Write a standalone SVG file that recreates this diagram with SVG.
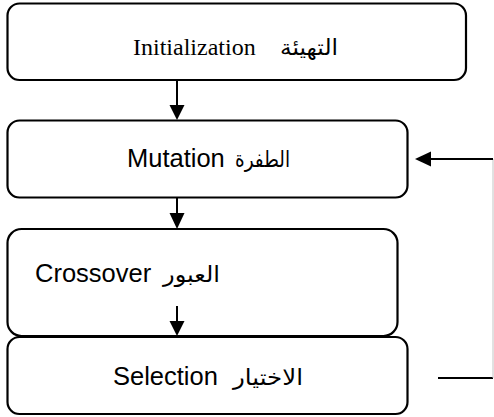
<svg xmlns="http://www.w3.org/2000/svg" width="494" height="417" viewBox="0 0 494 417">
<style>
.box{fill:none;stroke:#000;stroke-width:2.2}
.serif{font-family:"Liberation Serif","DejaVu Serif","Noto Sans",serif;font-size:24px;fill:#000}
.sans{font-family:"Liberation Sans","DejaVu Sans",sans-serif;font-size:25.5px;fill:#000}
.ar{font-family:"Liberation Sans","DejaVu Sans",sans-serif;font-size:22px;fill:#000}
.ln{stroke:#000;stroke-width:2;fill:none}
.head{fill:#000}
</style>
<rect width="494" height="417" fill="#fff"/>
<g id="connectors">
<line class="ln" x1="177" y1="80" x2="177" y2="106"/>
<polygon class="head" points="169.5,105 184.5,105 177,120"/>
<line class="ln" x1="177" y1="197" x2="177" y2="214"/>
<polygon class="head" points="169.5,213 184.5,213 177,229"/>
<line class="ln" x1="177" y1="306" x2="177" y2="322"/>
<polygon class="head" points="169.5,321 184.5,321 177,336"/>
<line class="ln" x1="438" y1="378" x2="493" y2="378"/>
<line x1="493" y1="159" x2="493" y2="378" stroke="#c4c4c4" stroke-width="1"/>
<line class="ln" x1="493" y1="159" x2="430" y2="159"/>
<polygon class="head" points="431,151.5 431,166.5 415,159"/>
</g>
<g id="node-init">
<rect class="box" x="7.5" y="3.5" width="458.5" height="76.5" rx="12"/>
<text class="serif" x="133" y="55">Initialization</text>
<text class="ar" x="280" y="55" textLength="58" lengthAdjust="spacingAndGlyphs">التهيئة</text>
</g>
<g id="node-mutation">
<rect class="box" x="7.5" y="120.5" width="400" height="77" rx="12"/>
<text class="sans" x="127" y="167">Mutation</text>
<text class="ar" x="235" y="167" textLength="55" lengthAdjust="spacingAndGlyphs">الطفرة</text>
</g>
<g id="node-crossover">
<rect class="box" x="7.5" y="229" width="390" height="107" rx="14"/>
<text class="sans" x="35" y="282">Crossover</text>
<text class="ar" x="163" y="282" textLength="57" lengthAdjust="spacingAndGlyphs">العبور</text>
</g>
<g id="node-selection">
<rect class="box" x="7.5" y="337" width="400" height="77" rx="12"/>
<text class="sans" x="113" y="385">Selection</text>
<text class="ar" x="233" y="385" textLength="70" lengthAdjust="spacingAndGlyphs">الاختيار</text>
</g>
</svg>
